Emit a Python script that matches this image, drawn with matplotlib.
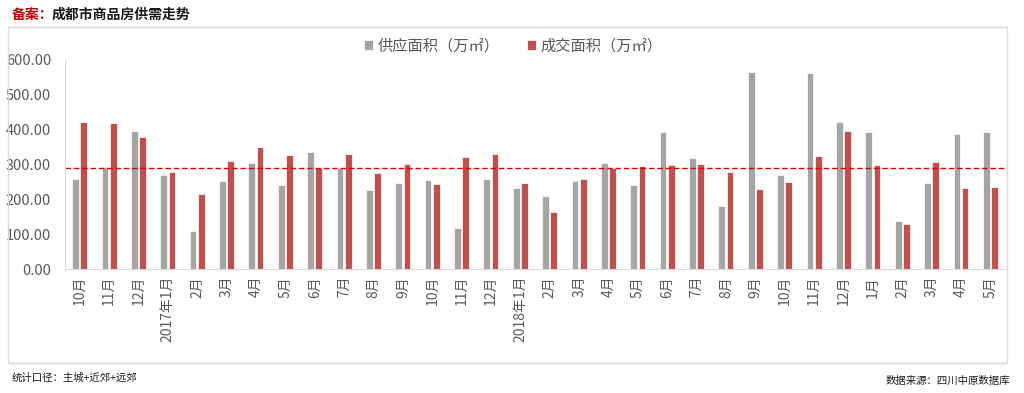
import matplotlib.pyplot as plt
from matplotlib.patches import Rectangle
import numpy as np

plt.rcParams['font.family'] = ['Noto Sans CJK SC', 'DejaVu Sans']

# month labels
months = ['10月', '11月', '12月', '2017年1月', '2月', '3月', '4月', '5月', '6月', '7月',
          '8月', '9月', '10月', '11月', '12月', '2018年1月', '2月', '3月', '4月', '5月',
          '6月', '7月', '8月', '9月', '10月', '11月', '12月', '1月', '2月', '3月', '4月', '5月']

# supply area (10k m2)
supply = [257, 292, 394, 268, 110, 252, 305, 240, 334, 289,
          227, 245, 255, 118, 258, 232, 208, 252, 305, 240,
          392, 319, 181, 564, 270, 561, 422, 391, 137, 245, 387, 391]

# transaction area (10k m2)
deal = [422, 417, 377, 277, 215, 310, 350, 327, 290, 330,
        275, 302, 243, 320, 330, 245, 163, 258, 290, 295,
        297, 300, 277, 230, 250, 324, 395, 297, 128, 307, 232, 235]

avg_line = 289

fig = plt.figure(figsize=(10.24, 3.93), dpi=100)

# outer frame
fig.patches.append(Rectangle((0.0078, 0.0763), 0.9756, 0.855, transform=fig.transFigure,
                             fill=False, edgecolor='#D9D9D9', linewidth=1))

ax = fig.add_axes([0.0635, 0.3155, 0.918, 0.5331])

x = np.arange(len(months))
w = 0.23
ax.bar(x - 0.14, supply, width=w, color='#A5A5A5', edgecolor='white', linewidth=0.5,
       label='供应面积（万㎡）')
ax.bar(x + 0.14, deal, width=w, color='#C0504D', edgecolor='white', linewidth=0.5,
       label='成交面积（万㎡）')
ax.axhline(avg_line, color='#E00000', linestyle=(0, (4, 2)), linewidth=1)

ax.set_xlim(-0.5, len(months) - 0.5)
ax.set_ylim(0, 600)
ax.set_yticks(range(0, 601, 100))
ax.set_yticklabels([f'{v:.2f}' for v in range(0, 601, 100)])
ax.set_xticks(x)
ax.set_xticklabels(months, rotation=90)
ax.tick_params(axis='y', colors='#595959', labelsize=10.5, length=0, pad=10)
ax.tick_params(axis='x', colors='#595959', labelsize=10, length=0, pad=5)

for s in ['top', 'right']:
    ax.spines[s].set_visible(False)
ax.spines['left'].set_color('#D9D9D9')
ax.spines['bottom'].set_color('#D9D9D9')

leg = ax.legend(loc='center', bbox_to_anchor=(0.477, 1.064), ncol=2, frameon=False,
                fontsize=11, handlelength=0.6, handleheight=0.6, columnspacing=1.8,
                handletextpad=0.3)
for t in leg.get_texts():
    t.set_color('#595959')

# title
fig.text(0.0117, 0.962, '备案：', color='#C00000', fontsize=10, fontweight='bold', va='center')
fig.text(0.0505, 0.962, '成都市商品房供需走势', color='#1a1a1a', fontsize=10,
         fontweight='bold', va='center')

# footer
fig.text(0.0117, 0.038, '统计口径：主城+近郊+远郊', fontsize=7.5, color='#1a1a1a', va='center')
fig.text(0.986, 0.030, '数据来源：四川中原数据库', fontsize=7.5, color='#1a1a1a',
         va='center', ha='right')

fig.savefig('out.png', dpi=100)
